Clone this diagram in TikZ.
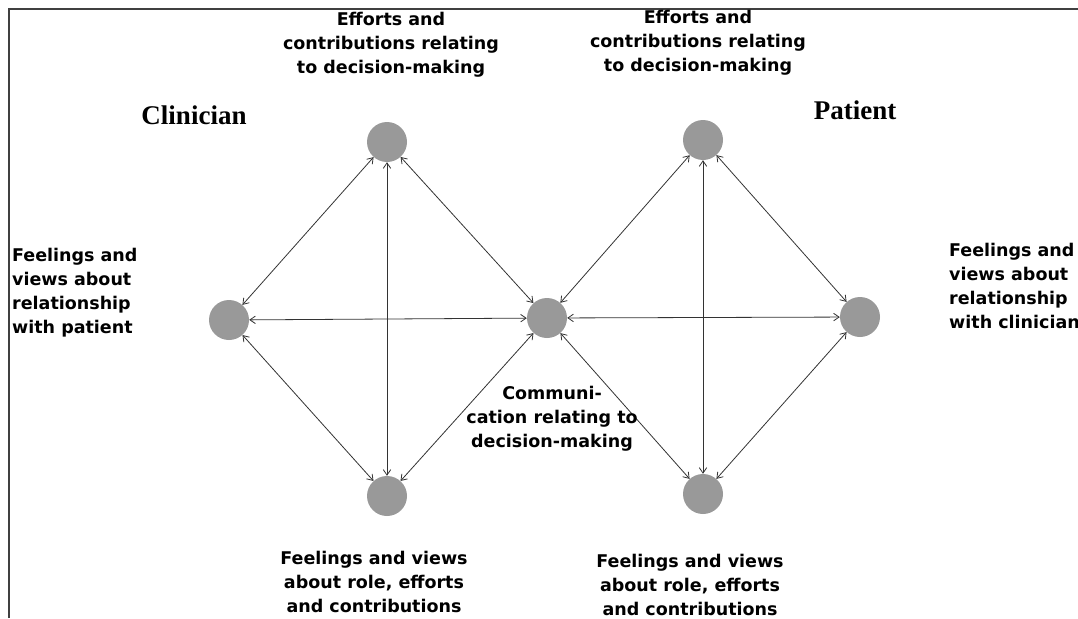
\documentclass[tikz,border=0pt]{standalone}
\usepackage{fontspec}
\usepackage{tikz}
\usetikzlibrary{arrows.meta}
\newfontfamily\labelfont{DejaVu Sans}
\newfontfamily\rolefont{Liberation Serif}

\begin{document}
\begin{tikzpicture}[x=1pt,y=-1pt,
    >={Straight Barb[length=5.5pt,width=7.5pt]},
    dot/.style={circle,fill=black!40,minimum size=40pt,inner sep=0pt},
    link/.style={<->,draw=black!80,line width=0.8pt},
    lbl/.style={font=\labelfont\bfseries\fontsize{17.5}{24}\selectfont,inner sep=0pt,anchor=north},
    role/.style={font=\rolefont\bfseries\fontsize{27}{30}\selectfont,inner sep=0pt,anchor=base}]
\useasboundingbox (0,0) rectangle (1078,618);
\draw[black!75,line width=1.5pt] (9,618) -- (9,9) -- (1078,9);
    \node[dot] (ctop) at (387,142) {};
    \node[dot] (cleft) at (229,320) {};
    \node[dot] (cbot) at (387,496) {};
    \node[dot] (mid) at (547,318) {};
    \node[dot] (ptop) at (703,140) {};
    \node[dot] (pright) at (860,317) {};
    \node[dot] (pbot) at (703,494) {};
    \draw[link] (cleft) -- (ctop);
    \draw[link] (cleft) -- (cbot);
    \draw[link] (cleft) -- (mid);
    \draw[link] (ctop) -- (cbot);
    \draw[link] (ctop) -- (mid);
    \draw[link] (cbot) -- (mid);
    \draw[link] (mid) -- (ptop);
    \draw[link] (mid) -- (pbot);
    \draw[link] (mid) -- (pright);
    \draw[link] (ptop) -- (pbot);
    \draw[link] (ptop) -- (pright);
    \draw[link] (pbot) -- (pright);
    \node[role] (clin) at (194,124) {Clinician};
    \node[role] (pat) at (855,119) {Patient};
    \node[lbl,align=center] (ctoptext) at (391,12) {Efforts and\\contributions relating\\to decision-making};
    \node[lbl,align=center] (ptoptext) at (698,10) {Efforts and\\contributions relating\\to decision-making};
    \node[lbl,align=left,anchor=north west] (clefttext) at (12,248) {Feelings and\\views about\\relationship\\with patient};
    \node[lbl,align=left,anchor=north west] (prighttext) at (949,243) {Feelings and\\views about\\relationship\\with clinician};
    \node[lbl,align=center] (midtext) at (552,386) {Communi-\\cation relating to\\decision-making};
    \node[lbl,align=center] (cbottext) at (374,551) {Feelings and views\\about role, efforts\\and contributions};
    \node[lbl,align=center] (pbottext) at (690,554) {Feelings and views\\about role, efforts\\and contributions};
\end{tikzpicture}
\end{document}
